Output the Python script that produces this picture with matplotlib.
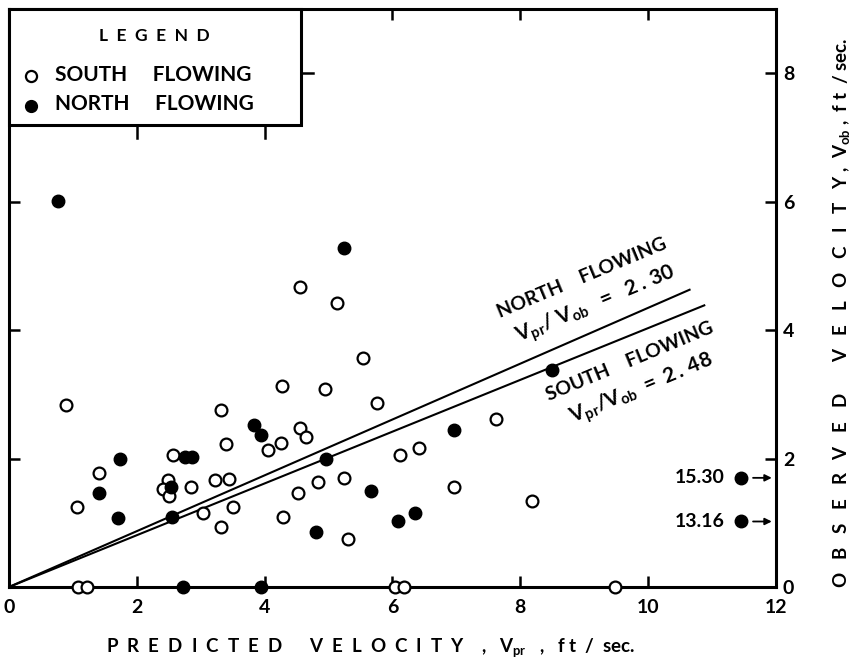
import matplotlib
matplotlib.use("Agg")
import matplotlib.pyplot as plt
from matplotlib.patches import Rectangle

plt.rcParams['font.family'] = ['Lato', 'DejaVu Sans']
plt.rcParams['font.weight'] = 'bold'
plt.rcParams['axes.labelweight'] = 'bold'
plt.rcParams['mathtext.fontset'] = 'custom'
plt.rcParams['mathtext.rm'] = 'Lato:bold'
plt.rcParams['mathtext.it'] = 'Lato:bold'
plt.rcParams['mathtext.bf'] = 'Lato:bold'

# South flowing (open circles): predicted vs observed velocity, ft/sec
south_vpr = [0.89, 1.07, 1.41, 1.08, 1.22, 2.56, 2.48, 2.41, 2.50, 2.85,
             3.03, 3.22, 3.44, 3.32, 3.40, 3.50, 3.31, 4.06, 4.25, 4.27,
             4.28, 4.56, 4.65, 4.53, 4.83, 4.94, 5.24, 5.30, 5.54, 5.76,
             6.12, 6.42, 6.04, 6.18, 4.56, 5.13, 6.97, 7.62, 8.18, 9.49]
south_vob = [2.84, 1.25, 1.77, 0.0, 0.0, 2.05, 1.66, 1.53, 1.42, 1.56,
             1.15, 1.66, 1.68, 2.75, 2.23, 1.25, 0.94, 2.14, 2.25, 3.13,
             1.09, 2.48, 2.34, 1.47, 1.64, 3.09, 1.69, 0.75, 3.56, 2.86,
             2.06, 2.16, 0.0, 0.0, 4.67, 4.43, 1.56, 2.62, 1.34, 0.0]

# North flowing (filled circles)
north_vpr = [0.77, 5.24, 1.74, 1.41, 1.70, 2.53, 2.55, 2.75, 2.87, 2.73,
             3.84, 3.95, 3.94, 4.96, 4.81, 5.66, 6.08, 6.35, 6.97, 8.50]
north_vob = [6.02, 5.28, 2.00, 1.47, 1.08, 1.55, 1.09, 2.02, 2.02, 0.0,
             2.52, 2.37, 0.0, 2.00, 0.86, 1.50, 1.03, 1.16, 2.44, 3.38]

# off-scale points (true Vpr written beside them)
off_vpr = [11.45, 11.45]
off_vob = [1.70, 1.02]
off_labels = ["15.30", "13.16"]

ratio_north = 2.30
ratio_south = 2.48
north_end = 10.65
south_end = 10.88

fig = plt.figure(figsize=(8.52, 6.61), dpi=100)
ax = fig.add_axes([0.0106, 0.112, 0.900, 0.874])
ax.set_xlim(0, 12)
ax.set_ylim(0, 9)

ax.plot([0, north_end], [0, north_end / ratio_north], color='black', lw=1.5, zorder=2)
ax.plot([0, south_end], [0, south_end / ratio_south], color='black', lw=1.5, zorder=2)

ax.plot(south_vpr, south_vob, 'o', ms=8.5, mfc='white', mec='black', mew=1.6,
        clip_on=False, zorder=3)
ax.plot(north_vpr, north_vob, 'o', ms=9, mfc='black', mec='black',
        clip_on=False, zorder=4)
ax.plot(off_vpr, off_vob, 'o', ms=9, mfc='black', mec='black', zorder=4)
for x, y, lab in zip(off_vpr, off_vob, off_labels):
    ax.text(x - 0.25, y, lab, ha='right', va='center', fontsize=14)
    ax.annotate('', xy=(11.98, y), xytext=(11.6, y),
                arrowprops=dict(arrowstyle='-|>', color='black', lw=1.3,
                                mutation_scale=10))

# line labels
rot = 22.6
ax.text(8.97, 4.82, "NORTH    FLOWING", rotation=rot, ha='center', va='center',
        fontsize=14)
ax.text(9.19, 4.4, r"$\mathregular{V_{pr}/\ V_{ob}\ \ =\ \ 2\,.\,30}$", rotation=rot,
        ha='center', va='center', fontsize=15)
ax.text(9.72, 3.52, "SOUTH    FLOWING", rotation=rot, ha='center', va='center',
        fontsize=14)
ax.text(9.9, 3.08, r"$\mathregular{V_{pr}/V_{ob}\ =\ 2\,.\,48}$", rotation=rot,
        ha='center', va='center', fontsize=15)

# frame and ticks
for s in ax.spines.values():
    s.set_linewidth(2.2)
ax.set_xticks([0, 2, 4, 6, 8, 10, 12])
ax.set_yticks([0, 2, 4, 6, 8])
ax.tick_params(axis='both', direction='in', length=8, width=1.8,
               top=True, right=True, labelsize=14)
ax.tick_params(axis='x', pad=9)
ax.tick_params(axis='y', left=True, labelleft=False, labelright=True, pad=5)

ax.set_xlabel("P  R  E  D  I  C  T  E  D      V  E  L  O  C  I  T  Y    ,   "
              "$\\mathregular{V_{pr}}$   ,   f t  /  sec.", fontsize=13.5)
ax.xaxis.set_label_coords(0.472, -0.085)
ax.yaxis.set_label_position('right')
ax.set_ylabel("O   B   S   E   R   V   E   D       V   E   L   O   C   I   T   Y ,  "
              "$\\mathregular{V_{ob}}$ ,  f t  / sec.", fontsize=13.5, rotation=90)
ax.yaxis.set_label_coords(1.072, 0.475)

# legend box in the upper-left corner
lw_frac, lh_frac = 0.381, 0.2
box = Rectangle((0, 1 - lh_frac), lw_frac, lh_frac, transform=ax.transAxes,
                facecolor='white', edgecolor='black', lw=2.2, zorder=10,
                clip_on=False)
ax.add_patch(box)
ax.text(0.19, 0.953, "L  E  G  E  N  D", transform=ax.transAxes, ha='center',
        va='center', fontsize=12.5, zorder=11)
ax.plot([0.028], [0.885], 'o', transform=ax.transAxes, ms=8, mfc='white',
        mec='black', mew=1.6, zorder=11)
ax.plot([0.028], [0.833], 'o', transform=ax.transAxes, ms=8.5, mfc='black',
        mec='black', zorder=11)
ax.text(0.06, 0.887, "SOUTH     FLOWING", transform=ax.transAxes, ha='left',
        va='center', fontsize=15, zorder=11)
ax.text(0.06, 0.836, "NORTH     FLOWING", transform=ax.transAxes, ha='left',
        va='center', fontsize=15, zorder=11)
# ticks that hang from the legend box edges
for xt in [2, 4]:
    ax.plot([xt, xt], [9 * (1 - lh_frac), 9 * (1 - lh_frac) - 0.2], color='black',
            lw=1.8, zorder=11, clip_on=False)
ax.plot([12 * lw_frac, 12 * lw_frac + 0.19], [8, 8], color='black', lw=1.8,
        zorder=11, clip_on=False)

fig.savefig("out.png", dpi=100)
